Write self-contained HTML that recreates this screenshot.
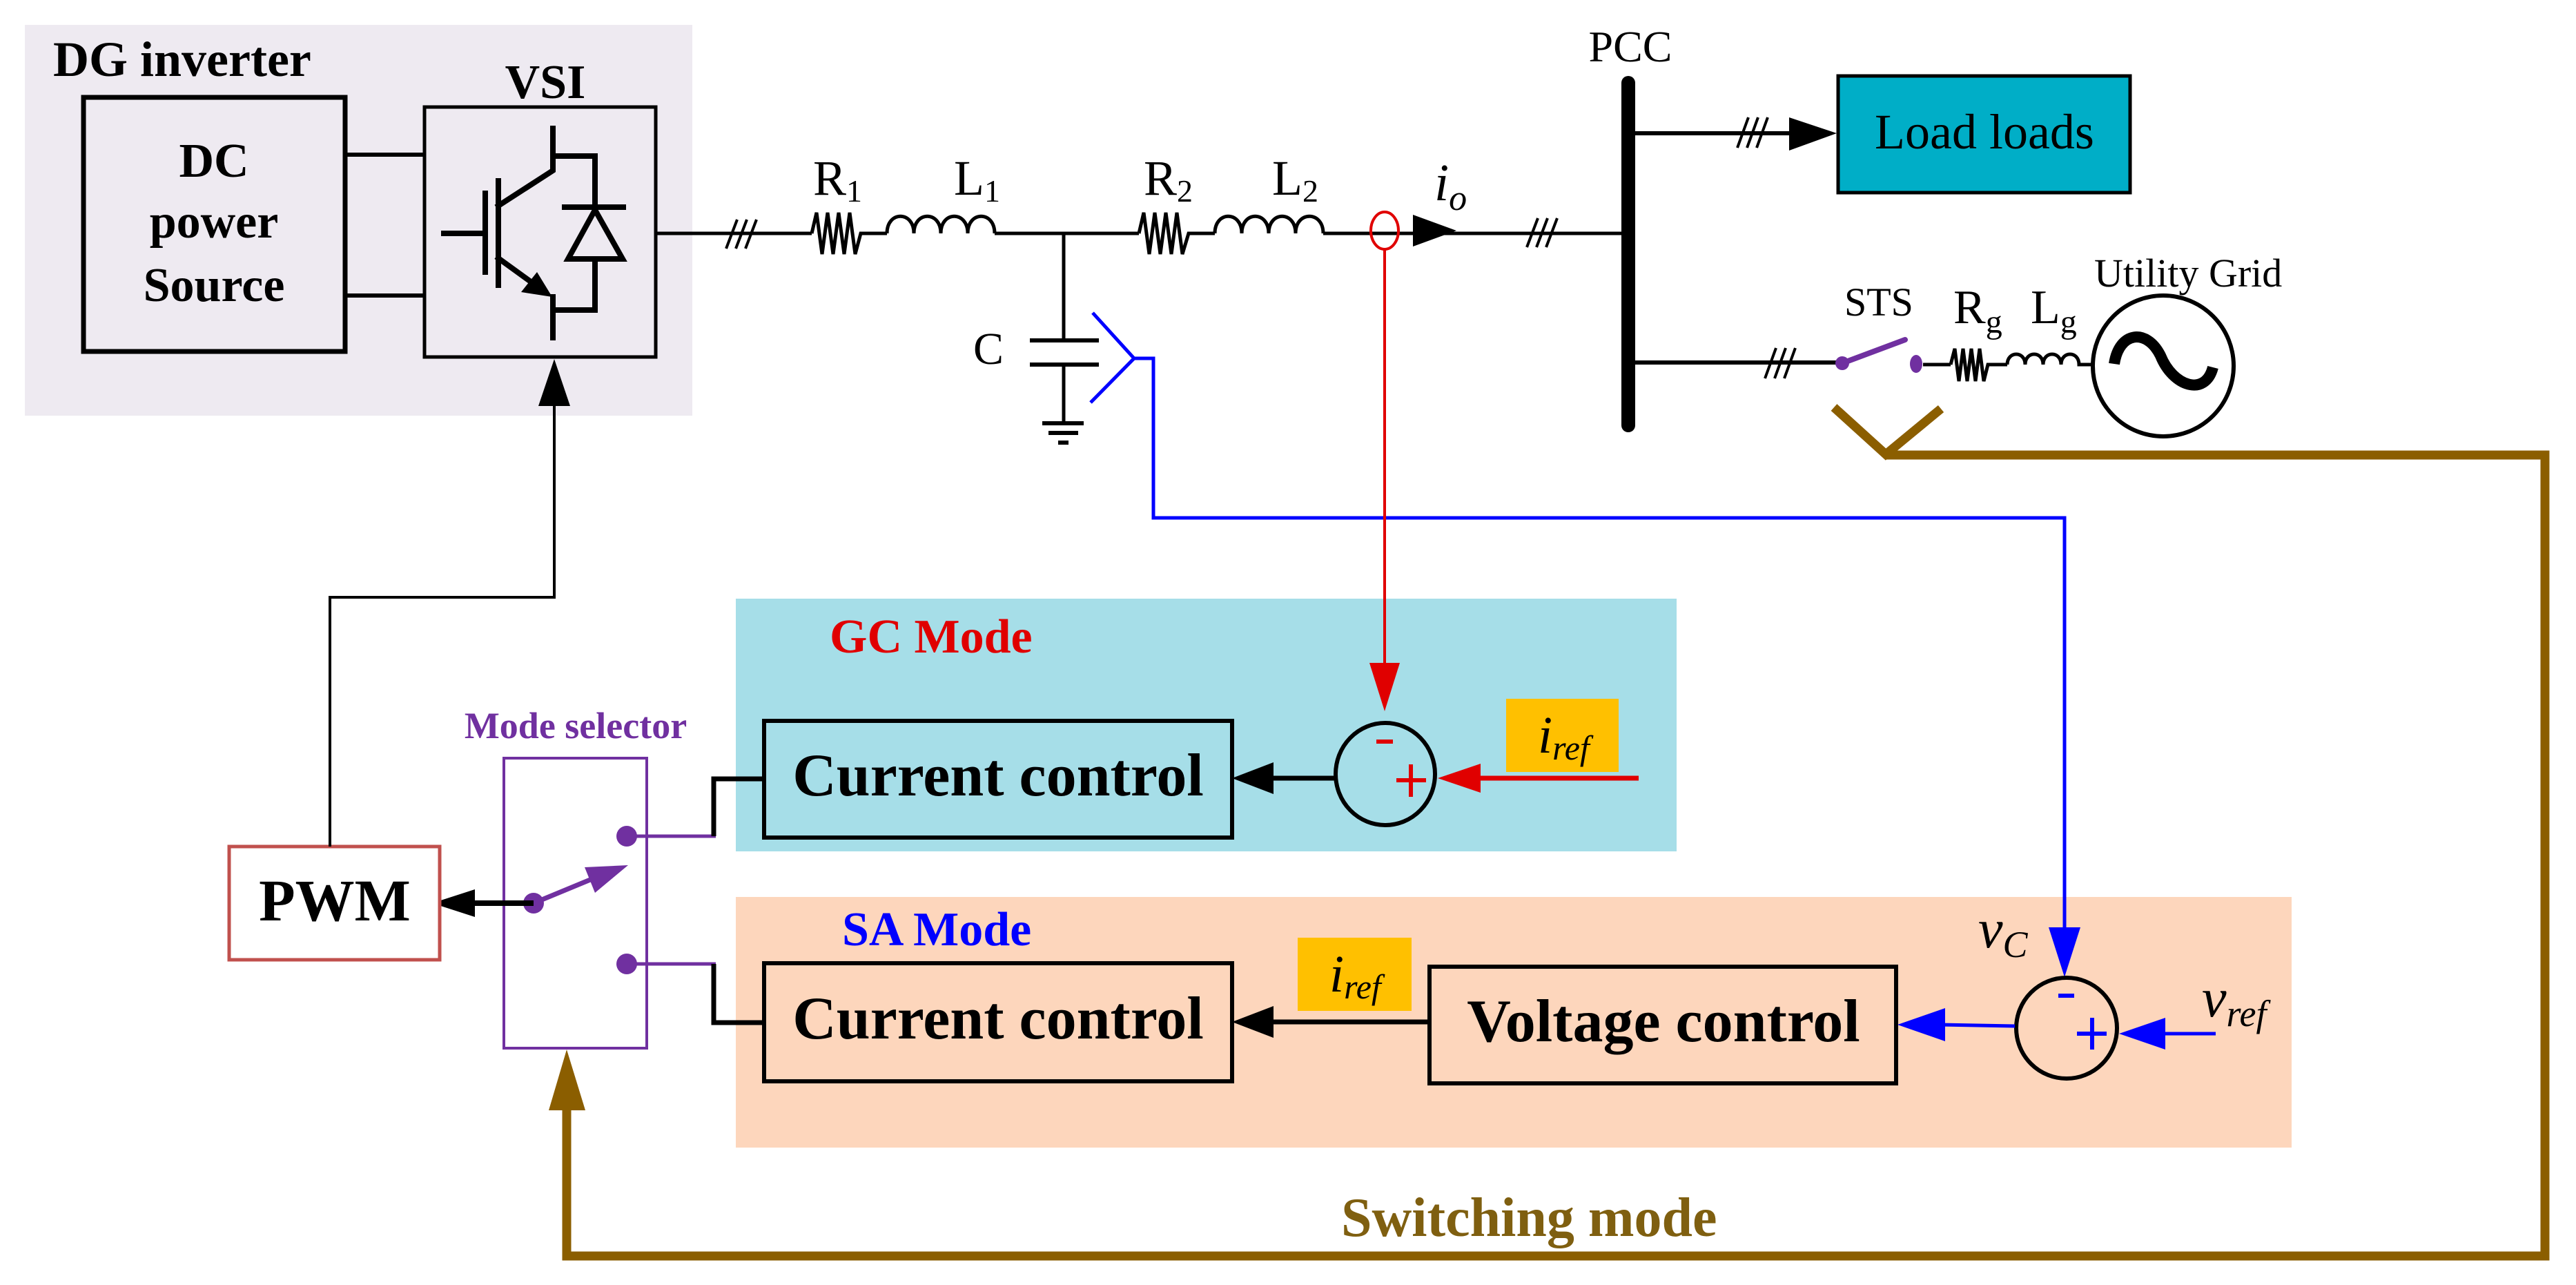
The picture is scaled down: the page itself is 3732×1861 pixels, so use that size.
<!DOCTYPE html>
<html><head><meta charset="utf-8"><style>
html,body{margin:0;padding:0;background:#fff}
svg{display:block}
text{font-family:"Liberation Serif",serif}
</style></head><body>
<svg width="3732" height="1861" viewBox="0 0 3732 1861" xmlns="http://www.w3.org/2000/svg">
<!-- panels -->
<rect x="36" y="36" width="967" height="566" fill="#EEEAF1"/>
<rect x="1066" y="867" width="1363" height="366" fill="#A6DEE8"/>
<rect x="1066" y="1299" width="2254" height="363" fill="#FDD6BC"/>

<text x="77" y="110" font-size="72" font-weight="bold">DG inverter</text>
<text x="790" y="142" font-size="70" font-weight="bold" text-anchor="middle">VSI</text>

<!-- DC box -->
<rect x="121" y="141" width="379" height="368" fill="none" stroke="#000" stroke-width="7"/>
<text x="310" y="256" font-size="70" font-weight="bold" text-anchor="middle">DC</text>
<text x="310" y="344" font-size="70" font-weight="bold" text-anchor="middle">power</text>
<text x="310" y="436" font-size="70" font-weight="bold" text-anchor="middle">Source</text>
<line x1="500" y1="224" x2="615" y2="224" stroke="#000" stroke-width="6"/>
<line x1="500" y1="428" x2="615" y2="428" stroke="#000" stroke-width="6"/>

<!-- VSI -->
<rect x="615" y="155" width="335" height="362" fill="none" stroke="#000" stroke-width="5"/>
<g stroke="#000" stroke-width="8" fill="none" stroke-linecap="square">
<line x1="643" y1="338" x2="700" y2="338"/>
<line x1="703" y1="280" x2="703" y2="394"/>
<line x1="722" y1="262" x2="722" y2="413"/>
<polyline points="722,298 801,247 801,186"/>
<polyline points="801,226 862,226 862,300"/>
<line x1="818" y1="300" x2="903" y2="300"/>
<polygon points="862,304 823,375 902,375"/>
<polyline points="862,375 862,449 801,449"/>
<line x1="801" y1="430" x2="801" y2="489"/>
<line x1="722" y1="374" x2="780" y2="416"/>
</g>
<polygon points="800,430 755,423 778,394" fill="#000"/>

<!-- main line -->
<g stroke="#000" stroke-width="5" fill="none">
<line x1="950" y1="338" x2="1176" y2="338"/>
<polyline points="1176,338 1183,308 1191,368 1199,308 1207,368 1215,308 1223,368 1231,308 1239,368 1247,338 1285,338"/>
<path d="M1285,338 C1285,305 1324,305 1324,338 C1324,305 1363,305 1363,338 C1363,305 1402,305 1402,338 C1402,305 1441,305 1441,338"/>
<line x1="1441" y1="338" x2="1650" y2="338"/>
<polyline points="1650,338 1657,308 1665,368 1673,308 1681,368 1689,308 1697,368 1705,308 1713,368 1722,338 1760,338"/>
<path d="M1760,338 C1760,305 1799,305 1799,338 C1799,305 1838,305 1838,338 C1838,305 1877,305 1877,338 C1877,305 1917,305 1917,338"/>
<line x1="1917" y1="338" x2="2359" y2="338"/>
<!-- cap -->
<line x1="1541" y1="338" x2="1541" y2="493"/>
<line x1="1541" y1="528" x2="1541" y2="613"/>
</g>
<g stroke="#000" stroke-width="6">
<line x1="1492" y1="493" x2="1592" y2="493"/>
<line x1="1492" y1="528" x2="1592" y2="528"/>
<line x1="1510" y1="613" x2="1570" y2="613"/>
<line x1="1519" y1="627" x2="1562" y2="627"/>
<line x1="1533" y1="641" x2="1548" y2="641"/>
</g>
<text x="1410" y="527" font-size="66">C</text>
<!-- slashes -->
<g stroke="#000" stroke-width="4">
<line x1="1052" y1="360" x2="1068" y2="318"/><line x1="1066" y1="360" x2="1082" y2="318"/><line x1="1080" y1="360" x2="1096" y2="318"/>
<line x1="2212" y1="358" x2="2228" y2="316"/><line x1="2226" y1="358" x2="2242" y2="316"/><line x1="2240" y1="358" x2="2256" y2="316"/>
<line x1="2517" y1="214" x2="2533" y2="170"/><line x1="2531" y1="214" x2="2547" y2="170"/><line x1="2545" y1="214" x2="2561" y2="170"/>
<line x1="2557" y1="548" x2="2573" y2="504"/><line x1="2571" y1="548" x2="2587" y2="504"/><line x1="2585" y1="548" x2="2601" y2="504"/>
</g>
<text x="1178" y="282" font-size="72">R<tspan font-size="46" dy="10">1</tspan></text>
<text x="1382" y="282" font-size="72">L<tspan font-size="46" dy="10">1</tspan></text>
<text x="1657" y="282" font-size="72">R<tspan font-size="46" dy="10">2</tspan></text>
<text x="1843" y="282" font-size="72">L<tspan font-size="46" dy="10">2</tspan></text>

<!-- CT & io -->
<ellipse cx="2006" cy="334" rx="20" ry="27" fill="none" stroke="#E00000" stroke-width="4"/>
<polygon points="2047,311 2047,357 2110,334" fill="#000"/>
<text x="2078" y="290" font-size="76" font-style="italic">i<tspan font-size="52" dy="14">o</tspan></text>

<!-- PCC -->
<line x1="2359" y1="120" x2="2359" y2="616" stroke="#000" stroke-width="20" stroke-linecap="round"/>
<text x="2362" y="89" font-size="64" text-anchor="middle">PCC</text>
<line x1="2359" y1="193" x2="2600" y2="193" stroke="#000" stroke-width="6"/>
<polygon points="2592,170 2592,218 2661,193" fill="#000"/>
<rect x="2663" y="110" width="423" height="169" fill="#00AEC7" stroke="#000" stroke-width="5"/>
<text x="2875" y="215" font-size="72" text-anchor="middle">Load loads</text>
<line x1="2359" y1="525" x2="2669" y2="525" stroke="#000" stroke-width="6"/>
<line x1="2669" y1="526" x2="2760" y2="492" stroke="#7030A0" stroke-width="8" stroke-linecap="round"/>
<circle cx="2669" cy="526" r="10" fill="#7030A0"/>
<ellipse cx="2776" cy="527" rx="9" ry="13" fill="#7030A0"/>
<text x="2672" y="457" font-size="58">STS</text>
<g stroke="#000" stroke-width="5" fill="none">
<line x1="2786" y1="528" x2="2826" y2="528"/>
<polyline points="2826,528 2832,505 2838,552 2844,505 2850,552 2856,505 2862,552 2868,505 2874,552 2880,528 2908,528"/>
<path d="M2908,528 C2908,508 2934,508 2934,528 C2934,508 2960,508 2960,528 C2960,508 2986,508 2986,528 C2986,508 3012,508 3012,528 L3032,528"/>
</g>
<text x="2830" y="468" font-size="70">R<tspan font-size="48" dy="14">g</tspan></text>
<text x="2942" y="468" font-size="70">L<tspan font-size="48" dy="14">g</tspan></text>
<circle cx="3134" cy="530" r="102" fill="none" stroke="#000" stroke-width="6"/>
<path d="M3063,527 C3070,480 3110,475 3130,515 C3148,560 3195,575 3206,532" fill="none" stroke="#000" stroke-width="16"/>
<text x="3034" y="415" font-size="58">Utility Grid</text>

<!-- brown -->
<g stroke="#8B5E00" stroke-width="13" fill="none" stroke-linejoin="miter">
<polyline points="2657,590 2732,658 2812,592"/>
<polyline points="2732,659 3687,659 3687,1819 821,1819 821,1600"/>
</g>
<polygon points="821,1520 795,1608 848,1608" fill="#8B5E00"/>
<text x="1943" y="1790" font-size="80" font-weight="bold" fill="#7F5F10">Switching mode</text>

<!-- blue -->
<g stroke="#0000FF" stroke-width="5" fill="none">
<polyline points="1583,453 1643,519 1580,583"/>
<polyline points="1643,519 1671,519 1671,750 2991,750 2991,1345"/>
</g>
<polygon points="2968,1343 3014,1343 2991,1415" fill="#0000FF"/>

<!-- red -->
<line x1="2006" y1="361" x2="2006" y2="965" stroke="#E00000" stroke-width="4"/>
<polygon points="1984,960 2028,960 2006,1030" fill="#E00000"/>

<!-- GC -->
<text x="1202" y="945" font-size="70" font-weight="bold" fill="#E00000">GC Mode</text>
<rect x="1107" y="1044" width="678" height="169" fill="none" stroke="#000" stroke-width="6"/>
<text x="1446" y="1152" font-size="88" font-weight="bold" text-anchor="middle">Current control</text>
<ellipse cx="2007" cy="1121" rx="72" ry="74" fill="none" stroke="#000" stroke-width="6"/>
<line x1="1994" y1="1074" x2="2018" y2="1074" stroke="#E00000" stroke-width="6"/>
<line x1="2023" y1="1130" x2="2066" y2="1130" stroke="#E00000" stroke-width="6"/>
<line x1="2044" y1="1107" x2="2044" y2="1154" stroke="#E00000" stroke-width="6"/>
<line x1="1935" y1="1127" x2="1840" y2="1127" stroke="#000" stroke-width="7"/>
<polygon points="1785,1127 1845,1104 1845,1150" fill="#000"/>
<rect x="2182" y="1012" width="163" height="106" fill="#FFC000"/>
<text x="2228" y="1090" font-size="76" font-style="italic">i<tspan font-size="50" dy="10">ref</tspan></text>
<line x1="2374" y1="1127" x2="2140" y2="1127" stroke="#E00000" stroke-width="7"/>
<polygon points="2083,1127 2145,1106 2145,1148" fill="#E00000"/>

<!-- SA -->
<text x="1220" y="1369" font-size="70" font-weight="bold" fill="#0000FF">SA Mode</text>
<rect x="1107" y="1395" width="678" height="171" fill="none" stroke="#000" stroke-width="6"/>
<text x="1446" y="1504" font-size="88" font-weight="bold" text-anchor="middle">Current control</text>
<rect x="1880" y="1358" width="165" height="106" fill="#FFC000"/>
<text x="1926" y="1436" font-size="76" font-style="italic">i<tspan font-size="50" dy="10">ref</tspan></text>
<line x1="2071" y1="1480" x2="1840" y2="1480" stroke="#000" stroke-width="7"/>
<polygon points="1785,1480 1845,1457 1845,1503" fill="#000"/>
<rect x="2071" y="1400" width="676" height="169" fill="none" stroke="#000" stroke-width="6"/>
<text x="2410" y="1508" font-size="88" font-weight="bold" text-anchor="middle">Voltage control</text>
<circle cx="2994" cy="1489" r="73" fill="none" stroke="#000" stroke-width="6"/>
<line x1="2982" y1="1442" x2="3005" y2="1442" stroke="#0000FF" stroke-width="6"/>
<line x1="3009" y1="1497" x2="3052" y2="1497" stroke="#0000FF" stroke-width="6"/>
<line x1="3031" y1="1474" x2="3031" y2="1520" stroke="#0000FF" stroke-width="6"/>
<line x1="2919" y1="1486" x2="2810" y2="1484" stroke="#0000FF" stroke-width="5"/>
<polygon points="2749,1484 2818,1460 2818,1508" fill="#0000FF"/>
<line x1="3210" y1="1497" x2="3130" y2="1497" stroke="#0000FF" stroke-width="5"/>
<polygon points="3070,1497 3137,1474 3137,1520" fill="#0000FF"/>
<text x="2866" y="1372" font-size="80" font-style="italic">v<tspan font-size="54" dy="14">C</tspan></text>
<text x="3190" y="1472" font-size="80" font-style="italic">v<tspan font-size="54" dy="14">ref</tspan></text>

<!-- mode selector -->
<text x="834" y="1069" font-size="54" font-weight="bold" fill="#7030A0" text-anchor="middle">Mode selector</text>
<rect x="730" y="1098" width="207" height="420" fill="none" stroke="#7030A0" stroke-width="4"/>
<circle cx="908" cy="1211" r="15" fill="#7030A0"/>
<circle cx="908" cy="1396" r="15" fill="#7030A0"/>
<circle cx="773" cy="1308" r="15" fill="#7030A0"/>
<line x1="773" y1="1308" x2="860" y2="1272" stroke="#7030A0" stroke-width="7"/>
<polygon points="910,1253 847,1256 862,1293" fill="#7030A0"/>
<line x1="908" y1="1211" x2="1037" y2="1211" stroke="#7030A0" stroke-width="5"/>
<line x1="908" y1="1396" x2="1037" y2="1396" stroke="#7030A0" stroke-width="5"/>
<polyline points="1034,1211 1034,1128 1108,1128" fill="none" stroke="#000" stroke-width="7"/>
<polyline points="1034,1396 1034,1481 1108,1481" fill="none" stroke="#000" stroke-width="7"/>
<line x1="773" y1="1308" x2="685" y2="1308" stroke="#000" stroke-width="8"/>
<polygon points="626,1308 688,1288 688,1328" fill="#000"/>

<!-- PWM -->
<rect x="332" y="1226" width="305" height="164" fill="#fff" stroke="#C0504D" stroke-width="5"/>
<text x="485" y="1333" font-size="86" font-weight="bold" text-anchor="middle">PWM</text>
<polyline points="478,1226 478,865 803,865 803,580" fill="none" stroke="#000" stroke-width="4"/>
<polygon points="803,520 780,588 826,588" fill="#000"/>
</svg>
</body></html>
